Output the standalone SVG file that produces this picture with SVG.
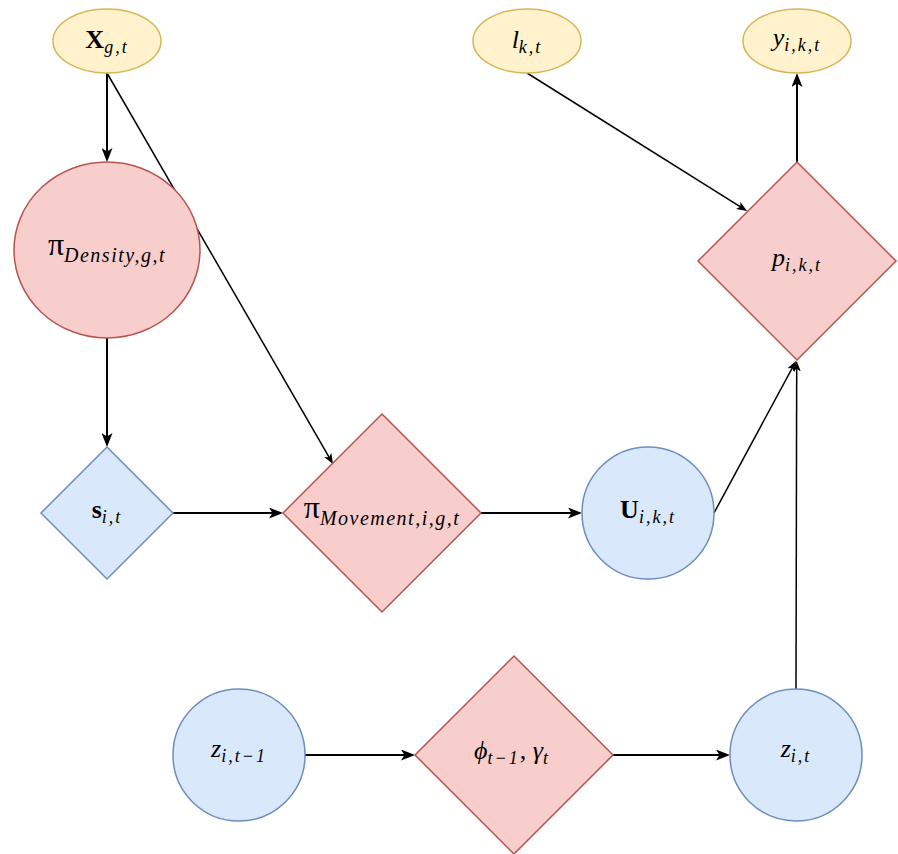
<svg xmlns="http://www.w3.org/2000/svg" width="898" height="854" viewBox="0 0 898 854">
<style>
.y{fill:#fff2cc;stroke:#d6b656;stroke-width:1.5}
.r{fill:#f8cecc;stroke:#b85450;stroke-width:1.5}
.b{fill:#dae8fc;stroke:#6c8ebf;stroke-width:1.5}
.e{fill:none;stroke:#000;stroke-width:2;marker-end:url(#a)}
.t{fill:none;stroke:#000;stroke-width:1.5;marker-end:url(#a)}
text{font-family:"Liberation Serif","DejaVu Serif",serif;font-size:26px;text-anchor:middle;fill:#000}
.i{font-style:italic}
.s{font-style:italic;font-size:18px;letter-spacing:2px}
.p{font-style:italic;font-size:20px;letter-spacing:1.5px}
.pi{font-size:32px}
.bd{font-weight:bold}
</style>
<defs>
<marker id="a" markerUnits="strokeWidth" markerWidth="7" markerHeight="5.5" refX="5" refY="2.75" orient="auto" viewBox="0 0 7 5.5">
<path d="M0,0 L7,2.75 L0,5.5 L1.75,2.75 Z" fill="#000"/>
</marker>
</defs>
<g id="connectors">
<line class="e" x1="107" y1="73" x2="107" y2="158"/>
<line class="t" x1="107" y1="73" x2="331.5" y2="461.4"/>
<line class="t" x1="527" y1="73" x2="744.5" y2="209.4"/>
<line class="e" x1="797" y1="162" x2="797" y2="77"/>
<line class="e" x1="107" y1="338" x2="107" y2="443"/>
<line class="e" x1="173" y1="513" x2="279" y2="513"/>
<line class="e" x1="481" y1="513" x2="578" y2="513"/>
<line class="t" x1="714" y1="513" x2="794.6" y2="363.6"/>
<line class="t" x1="796" y1="689" x2="796.7" y2="364"/>
<line class="e" x1="305" y1="755" x2="411" y2="755"/>
<line class="e" x1="613" y1="755" x2="726" y2="755"/>
</g>
<g id="X">
<ellipse class="y" cx="107" cy="41" rx="54" ry="32"/>
<text x="107" y="48"><tspan class="bd">X</tspan><tspan class="s" dy="5">g,t</tspan></text>
</g>
<g id="l">
<ellipse class="y" cx="527" cy="41" rx="54" ry="32"/>
<text x="527" y="48"><tspan class="i">l</tspan><tspan class="s" dy="5">k,t</tspan></text>
</g>
<g id="y">
<ellipse class="y" cx="797" cy="41" rx="54" ry="32"/>
<text x="797" y="46"><tspan class="i">y</tspan><tspan class="s" dy="5">i,k,t</tspan></text>
</g>
<g id="piDensity">
<ellipse class="r" cx="107" cy="250" rx="93" ry="88"/>
<text x="107" y="255"><tspan class="pi">π</tspan><tspan class="p" dy="7">Density,g,t</tspan></text>
</g>
<g id="p">
<polygon class="r" points="797,162 896,261 797,360 698,261"/>
<text x="797" y="266"><tspan class="i">p</tspan><tspan class="s" dy="5">i,k,t</tspan></text>
</g>
<g id="s">
<polygon class="b" points="107,447 173,513 107,579 41,513"/>
<text x="107" y="518"><tspan class="bd">s</tspan><tspan class="s" dy="5">i,t</tspan></text>
</g>
<g id="piMovement">
<polygon class="r" points="382,414 481,513 382,612 283,513"/>
<text x="382" y="518"><tspan class="pi">π</tspan><tspan class="p" dy="7">Movement,i,g,t</tspan></text>
</g>
<g id="U">
<circle class="b" cx="648" cy="513" r="66"/>
<text x="648" y="518"><tspan class="bd">U</tspan><tspan class="s" dy="5">i,k,t</tspan></text>
</g>
<g id="zprev">
<circle class="b" cx="239" cy="755" r="66"/>
<text x="239" y="757"><tspan class="i">z</tspan><tspan class="s" dy="5">i,t−1</tspan></text>
</g>
<g id="phi">
<polygon class="r" points="514,656 613,755 514,854 415,755"/>
<text x="512" y="759"><tspan class="i">ϕ</tspan><tspan class="s" dy="5">t−1</tspan><tspan dy="-5">, </tspan><tspan class="i">γ</tspan><tspan class="s" dy="5">t</tspan></text>
</g>
<g id="z">
<circle class="b" cx="796" cy="755" r="66"/>
<text x="796" y="757"><tspan class="i">z</tspan><tspan class="s" dy="5">i,t</tspan></text>
</g>
</svg>
